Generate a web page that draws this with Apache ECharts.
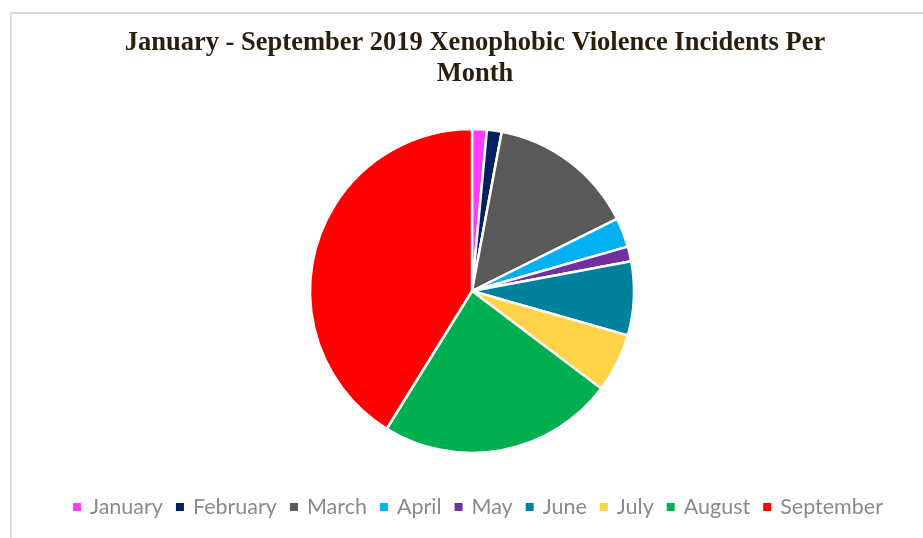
<!DOCTYPE html>
<html>
<head>
<meta charset="utf-8">
<script src="https://cdn.jsdelivr.net/npm/echarts@6/dist/echarts.min.js"></script>
<style>html,body{margin:0;padding:0;background:#fff;}#c{width:923px;height:538px;}</style>
</head>
<body>
<div id="c"></div>
<script>
const months = ['January','February','March','April','May','June','July','August','September'];
const incidents = [1, 1, 10, 2, 1, 5, 4, 16, 28];
const colors = ['#FF3DFF','#002060','#595959','#00B0F0','#7030A0','#00819B','#FFD347','#00B050','#FF0000'];

const chart = echarts.init(document.getElementById('c'));
chart.setOption({
  animation: false,
  title: {
    text: 'January - September 2019 Xenophobic Violence Incidents Per\nMonth',
    left: 470, top: 23, textAlign: 'center',
    textStyle: {fontFamily: '"Liberation Serif", serif', fontWeight: 'bold', fontSize: 26.5, lineHeight: 31, color: '#2a1f0f'}
  },
  graphic: [{
    type: 'rect', shape: {x: 11, y: 13, width: 1000, height: 1000},
    style: {fill: 'none', stroke: '#dcdcdc', lineWidth: 2}, silent: true
  }],
  legend: {
    bottom: 15, left: 66,
    icon: 'rect', itemWidth: 10, itemHeight: 10, itemGap: 11,
    textStyle: {fontFamily: 'Lato, sans-serif', fontSize: 21.5, color: '#8a8a8a', padding: [0,0,0,3]},
    data: months
  },
  series: [{
    type: 'pie',
    center: [472, 291], radius: 162,
    startAngle: 90, clockwise: true,
    label: {show: false}, labelLine: {show: false},
    itemStyle: {borderColor: '#fff', borderWidth: 2.5},
    emphasis: {disabled: true},
    data: months.map((m, i) => ({name: m, value: incidents[i], itemStyle: {color: colors[i]}}))
  }]
});
</script>
</body>
</html>
